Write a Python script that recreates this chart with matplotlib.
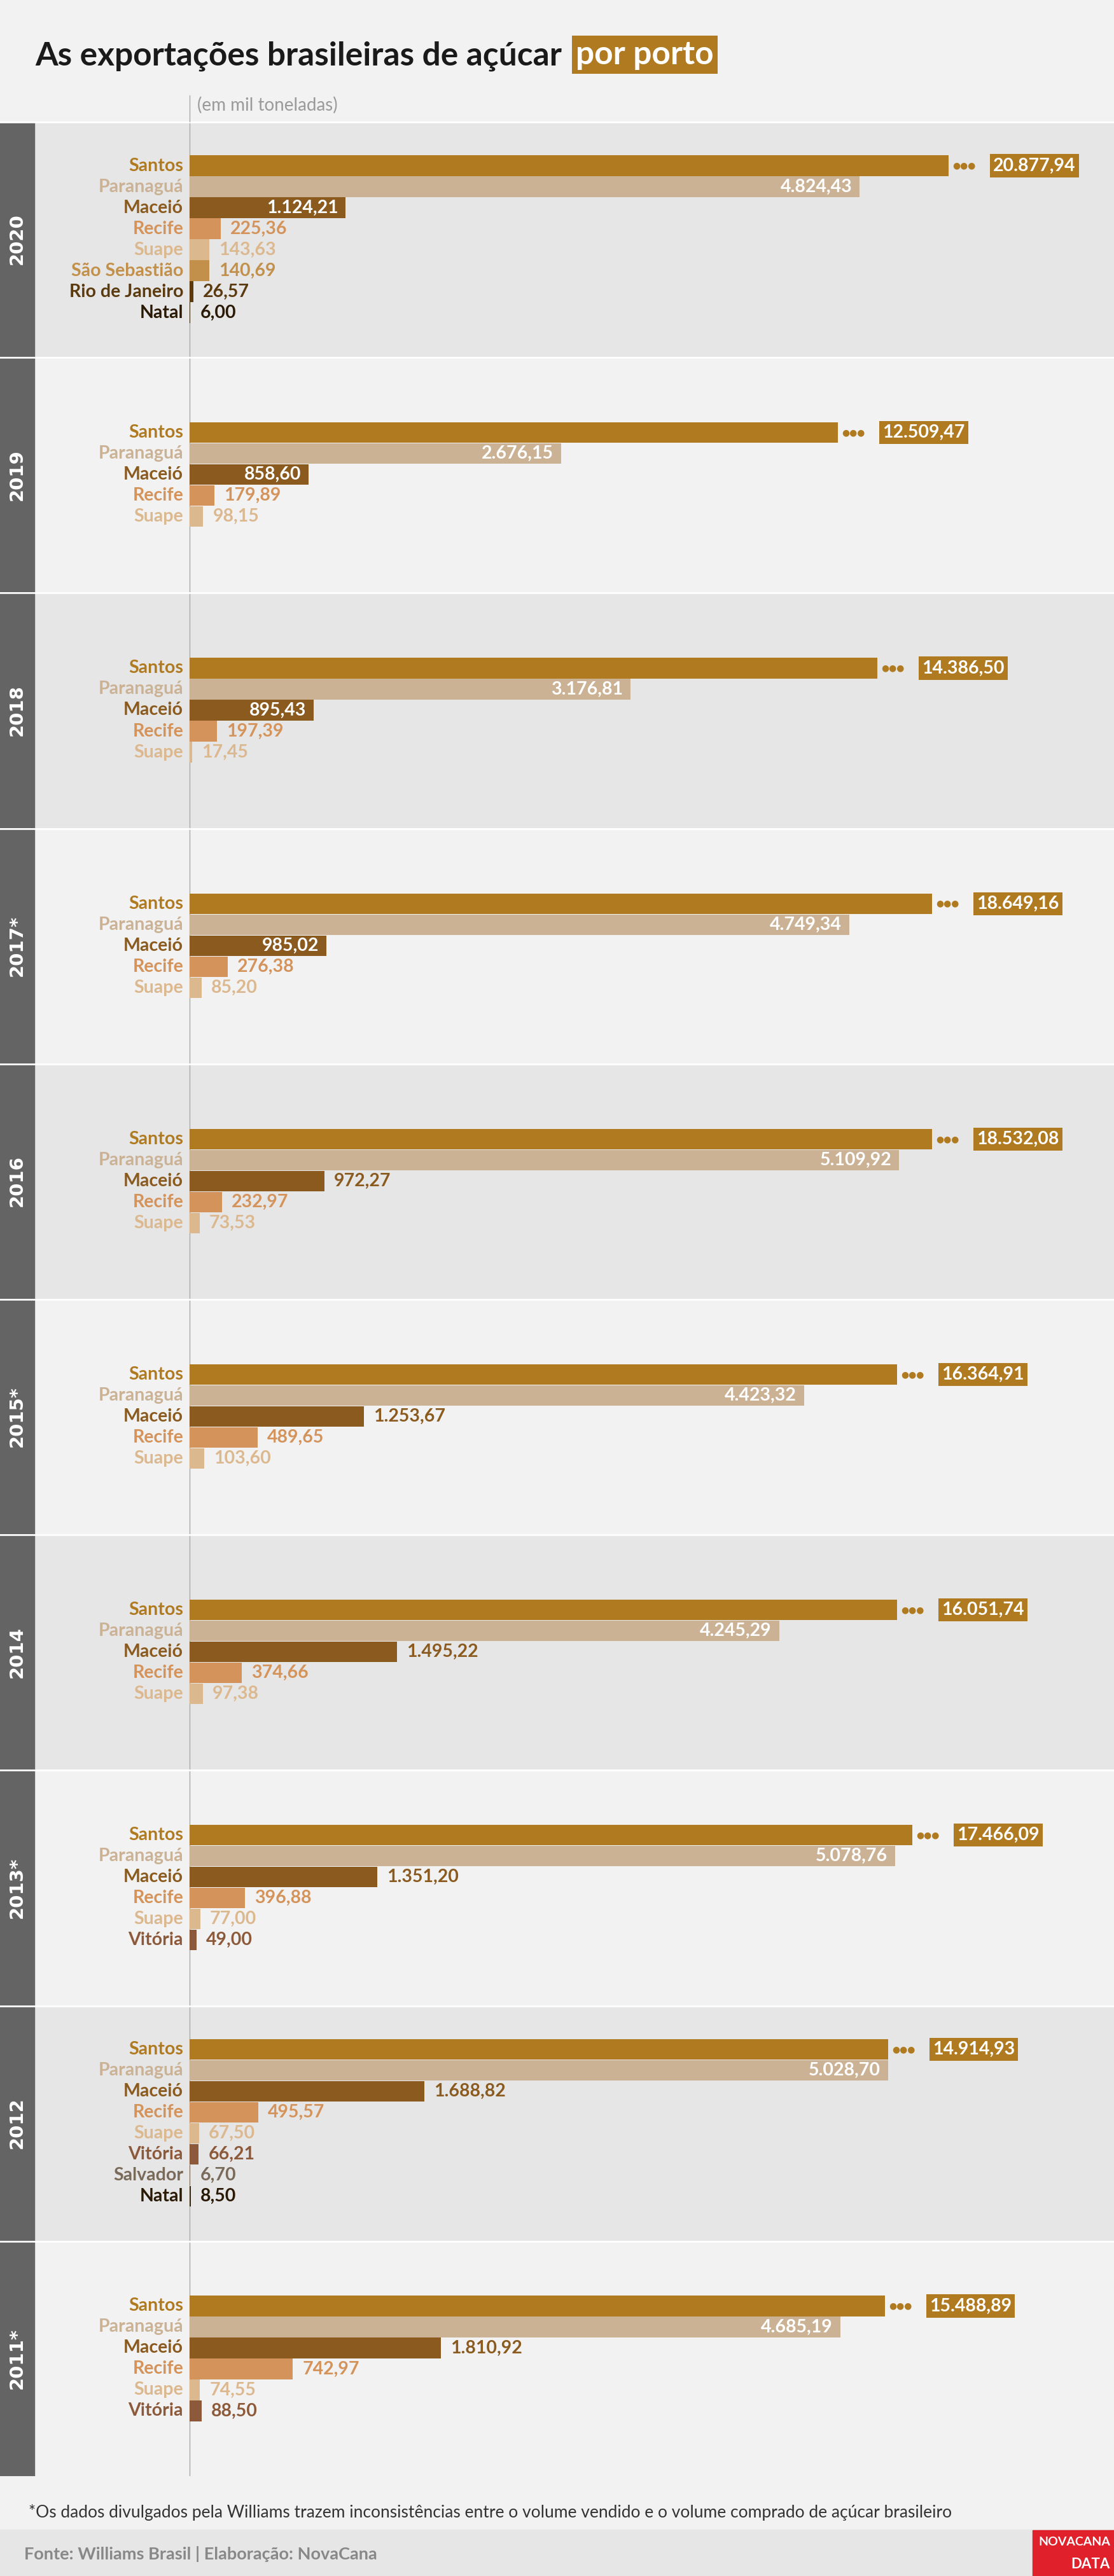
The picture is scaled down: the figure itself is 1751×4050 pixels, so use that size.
import matplotlib
matplotlib.use("Agg")
import matplotlib.pyplot as plt
from matplotlib.patches import Rectangle

plt.rcParams['font.family'] = ['Lato', 'DejaVu Sans']

years = ['2020', '2019', '2018', '2017*', '2016', '2015*', '2014', '2013*', '2012', '2011*']
ports_2020 = ['Santos', 'Paranaguá', 'Maceió', 'Recife', 'Suape', 'São Sebastião', 'Rio de Janeiro', 'Natal']
vals_2020 = [20877.94, 4824.43, 1124.21, 225.36, 143.63, 140.69, 26.57, 6.00]
ports_5 = ['Santos', 'Paranaguá', 'Maceió', 'Recife', 'Suape']
vals_2019 = [12509.47, 2676.15, 858.60, 179.89, 98.15]
vals_2018 = [14386.50, 3176.81, 895.43, 197.39, 17.45]
vals_2017 = [18649.16, 4749.34, 985.02, 276.38, 85.20]
vals_2016 = [18532.08, 5109.92, 972.27, 232.97, 73.53]
vals_2015 = [16364.91, 4423.32, 1253.67, 489.65, 103.60]
vals_2014 = [16051.74, 4245.29, 1495.22, 374.66, 97.38]
ports_2013 = ['Santos', 'Paranaguá', 'Maceió', 'Recife', 'Suape', 'Vitória']
vals_2013 = [17466.09, 5078.76, 1351.20, 396.88, 77.00, 49.00]
ports_2012 = ['Santos', 'Paranaguá', 'Maceió', 'Recife', 'Suape', 'Vitória', 'Salvador', 'Natal']
vals_2012 = [14914.93, 5028.70, 1688.82, 495.57, 67.50, 66.21, 6.70, 8.50]
ports_2011 = ['Santos', 'Paranaguá', 'Maceió', 'Recife', 'Suape', 'Vitória']
vals_2011 = [15488.89, 4685.19, 1810.92, 742.97, 74.55, 88.50]
# displayed (broken) length of the Santos bar, per year
santos_shown = [5465, 4668, 4952, 5346, 5346, 5094, 5094, 5204, 5030, 5007]
# ports whose value label sits inside the bar
inside = [['Paranaguá', 'Maceió'], ['Paranaguá', 'Maceió'], ['Paranaguá', 'Maceió'],
          ['Paranaguá', 'Maceió'], ['Paranaguá'], ['Paranaguá'], ['Paranaguá'],
          ['Paranaguá'], ['Paranaguá'], ['Paranaguá']]

ports_all = [ports_2020, ports_5, ports_5, ports_5, ports_5, ports_5, ports_5, ports_2013, ports_2012, ports_2011]
vals_all = [vals_2020, vals_2019, vals_2018, vals_2017, vals_2016, vals_2015, vals_2014, vals_2013, vals_2012, vals_2011]

bar_colors = {'Santos': '#b07a20', 'Paranaguá': '#cbb295', 'Maceió': '#8a5a1f', 'Recife': '#d4935a',
              'Suape': '#dcb88f', 'São Sebastião': '#c2904b', 'Rio de Janeiro': '#5c3a10',
              'Natal': '#3a2a10', 'Vitória': '#8c5a3a', 'Salvador': '#7a6a5a'}

def fmt(v):
    s = f"{v:,.2f}"
    return s.replace(',', 'X').replace('.', ',').replace('X', '.')

W, H = 1751, 4050
fig = plt.figure(figsize=(W / 100, H / 100), dpi=100)
fig.patch.set_facecolor('#f2f2f2')

ZERO = 298.0
PPU = 0.2183  # px per unit
ROW = 33.0
top0 = 191.0
PH = 370.2
FS = 20.5

t = fig.text(55 / W, 1 - 88 / H, 'As exportações brasileiras de açúcar', fontsize=37, fontweight='bold',
             color='#1a1a1a', va='center', ha='left')
r = fig.canvas.get_renderer()
bb = t.get_window_extent(renderer=r)
fig.text((bb.x1 + 22) / W, 1 - 86 / H, 'por porto', fontsize=37, fontweight='bold', color='white', va='center',
         ha='left', bbox=dict(facecolor='#b07a20', edgecolor='none', boxstyle='square,pad=0.12'))
fig.text(310 / W, 1 - 165 / H, '(em mil toneladas)', fontsize=20, color='#9a9a9a', va='center', ha='left')
fig.add_artist(plt.Line2D([ZERO / W, ZERO / W], [1 - 150 / H, 1 - 191 / H], color='#aaaaaa', lw=1))

xmin = -ZERO / PPU
xmax = (W - ZERO) / PPU
nrows_panel = PH / ROW

for i, (yr, ports, vals) in enumerate(zip(years, ports_all, vals_all)):
    top = top0 + i * PH
    ax = fig.add_axes([0, 1 - (top + PH) / H, 1, PH / H])
    ax.set_facecolor('#e6e6e6' if i % 2 == 0 else '#f2f2f2')
    for s in ax.spines.values():
        s.set_visible(False)
    ax.set_xticks([]); ax.set_yticks([])
    ax.set_xlim(xmin, xmax)
    ax.set_ylim(nrows_panel, 0)
    ax.add_patch(Rectangle((0, 0), 54 / W, 1, transform=ax.transAxes, color='#646464', zorder=1))
    ax.text(27 / W, 0.5, yr, transform=ax.transAxes, rotation=90,
            color='white', fontsize=21, fontweight='bold', family=['DejaVu Sans'], ha='center', va='center')
    ax.axvline(0, color='#aaaaaa', lw=1, zorder=1)
    ax.axhline(0, color='white', lw=4, zorder=5)
    n = len(ports)
    off = (nrows_panel - n) / 2 + 0.5
    ys = [off + k for k in range(n)]
    shown = [santos_shown[i] if p == 'Santos' else v for p, v in zip(ports, vals)]
    cols = [bar_colors[p] for p in ports]
    ax.barh(ys, shown, height=0.98, color=cols, zorder=3)
    for p, v, sv, y, c in zip(ports, vals, shown, ys, cols):
        lc = '#2a1a05' if p == 'Natal' else c
        ax.text(-10 / PPU, y, p, ha='right', va='center', fontsize=FS, fontweight='bold', color=lc, zorder=4)
        if p == 'Santos':
            ax.text(sv + 6 / PPU, y, '●●●', ha='left', va='center', fontsize=10, color=c, zorder=4,
                    family=['DejaVu Sans'])
            ax.text(sv + 70 / PPU, y, fmt(v), ha='left', va='center', fontsize=FS, fontweight='bold',
                    color='white', zorder=4,
                    bbox=dict(facecolor=c, edgecolor='none', boxstyle='square,pad=0.18'))
        elif p in inside[i]:
            ax.text(sv - 12 / PPU, y, fmt(v), ha='right', va='center', fontsize=FS, fontweight='bold',
                    color='white', zorder=4)
        else:
            ax.text(sv + 15 / PPU, y, fmt(v), ha='left', va='center', fontsize=FS, fontweight='bold',
                    color=lc, zorder=4)

fig.text(45 / W, 1 - 3950 / H, '*Os dados divulgados pela Williams trazem inconsistências entre o volume vendido e o volume comprado de açúcar brasileiro',
         fontsize=19, color='#333333', va='center', ha='left')
fig.add_artist(Rectangle((0, 0), 1, 73 / H, transform=fig.transFigure, color='#e6e6e6'))
fig.text(38 / W, 1 - 4016 / H, 'Fonte: Williams Brasil | Elaboração: NovaCana', fontsize=19.5, color='#888888',
         va='center', ha='left', fontweight='bold')
fig.add_artist(Rectangle((1623 / W, 0), 128 / W, 72 / H, transform=fig.transFigure, color='#e0202a'))
fig.text(1745 / W, 1 - 3996 / H, 'NOVACANA', fontsize=14, color='white', fontweight='bold', ha='right', va='center')
fig.text(1745 / W, 1 - 4031 / H, 'DATA', fontsize=16, color='white', fontweight='bold', ha='right', va='center')

fig.savefig('out.png', dpi=100, facecolor=fig.get_facecolor())
